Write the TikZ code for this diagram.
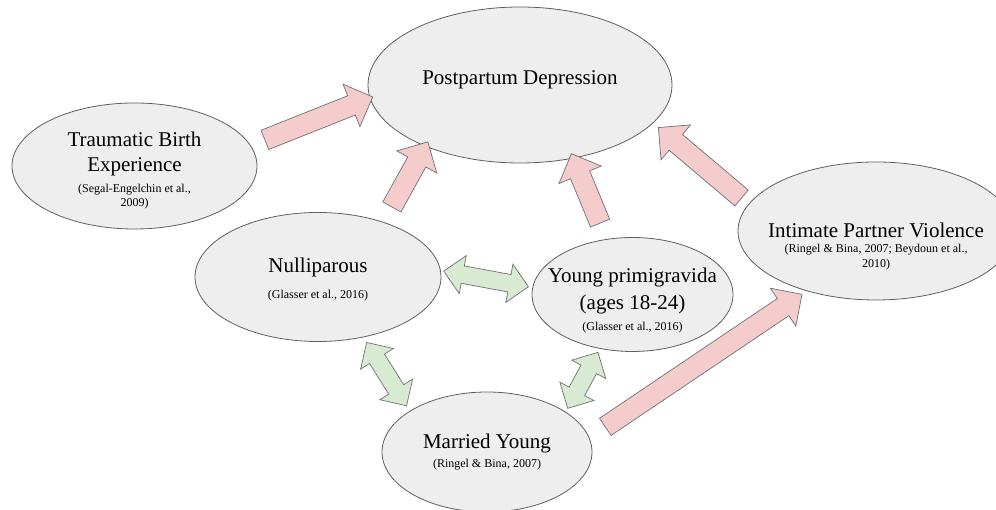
\documentclass[tikz,border=0pt]{standalone}
\usepackage{fontspec}
\setmainfont{Liberation Serif}
\usepackage{tikz}
\usetikzlibrary{positioning, shapes.geometric, shapes.arrows, calc}
\usepackage{xcolor}
\definecolor{bubblefill}{HTML}{EEEEEE}
\definecolor{bubbleline}{HTML}{5F5F5F}
\definecolor{pinkfill}{HTML}{F4CCCC}
\definecolor{greenfill}{HTML}{D9EAD3}
\definecolor{arrowline}{HTML}{707070}
\newcommand\refsize{\fontsize{12}{14}\selectfont}
\newcommand\linkarrow[5]{%
  \path let \p1=($(#2)!#4!(#3)$), \p2=($(#3)!#5!(#2)$),
    \n1={atan2(\y2-\y1,\x2-\x1)}, \n2={veclen(\x2-\x1,\y2-\y1)} in
    node[#1, rotate=\n1, minimum height=\n2] at ($(\p1)!0.5!(\p2)$) {};}

\begin{document}
\begin{tikzpicture}[x=1pt, y=1pt, bubble/.style={ellipse, draw=bubbleline, fill=bubblefill, line width=0.8pt, inner sep=0pt}, title/.style={align=center, inner sep=0pt, font=\fontsize{21}{25}\selectfont}, pinkarrow/.style={single arrow, draw=arrowline, fill=pinkfill, line width=0.7pt, inner xsep=0pt, inner ysep=10pt, single arrow head extend=12.5pt, single arrow tip angle=90}, greenarrow/.style={double arrow, draw=arrowline, fill=greenfill, line width=0.7pt, inner xsep=0pt, inner ysep=8.5pt, double arrow head extend=10.5pt, double arrow tip angle=90}]
\useasboundingbox (0,0) rectangle (996,510);
\node[bubble, minimum width=304pt, minimum height=156pt] (ppd) at (520,425) {};
\node[bubble, minimum width=245pt, minimum height=126pt] (tbe) at (134.5,344) {};
\node[bubble, minimum width=246pt, minimum height=129pt] (nul) at (318,233) {};
\node[bubble, minimum width=201pt, minimum height=114pt] (ypg) at (632.5,215.5) {};
\node[bubble, minimum width=276pt, minimum height=138pt] (ipv) at (876,279) {};
\node[bubble, minimum width=210pt, minimum height=120pt] (mar) at (487,58) {};
\node[title] (ppd-t) at ([yshift=5pt]ppd.center) {Postpartum Depression};
\node[title] (tbe-t) at ([yshift=-5pt]tbe.center) {Traumatic Birth\\Experience\\[-4pt]{\refsize (Segal-Engelchin et al.,}\\[-11pt]{\refsize 2009)}};
\node[title] (nul-t) at ([yshift=-2.5pt]nul.center) {Nulliparous\\{\refsize (Glasser et al., 2016)}};
\node[title] (ypg-t) at ([yshift=-6pt]ypg.center) {Young primigravida\\[2pt](ages 18-24)\\[-5pt]{\refsize (Glasser et al., 2016)}};
\node[title] (ipv-t) at ([yshift=-15pt]ipv.center) {Intimate Partner Violence\\[-9pt]{\refsize (Ringel \& Bina, 2007; Beydoun et al.,}\\[-11pt]{\refsize 2010)}};
\node[title] (mar-t) at (mar.center) {Married Young\\[-6pt]{\refsize (Ringel \& Bina, 2007)}};
\linkarrow{pinkarrow}{tbe.10}{ppd.185}{10pt}{2pt}
\linkarrow{pinkarrow}{nul.40}{ppd.213}{12pt}{0pt}
\linkarrow{pinkarrow}{ypg.115}{ppd.306}{12pt}{0pt}
\linkarrow{pinkarrow}{ipv.168}{ppd.344}{4pt}{12pt}
\linkarrow{pinkarrow}{mar.8}{ipv.221}{14pt}{11pt}
\linkarrow{greenarrow}{nul.3}{ypg.176}{3pt}{4pt}
\linkarrow{greenarrow}{nul.307}{mar.152}{6pt}{6pt}
\linkarrow{greenarrow}{ypg.239}{mar.27}{4pt}{4pt}
\end{tikzpicture}
\end{document}
